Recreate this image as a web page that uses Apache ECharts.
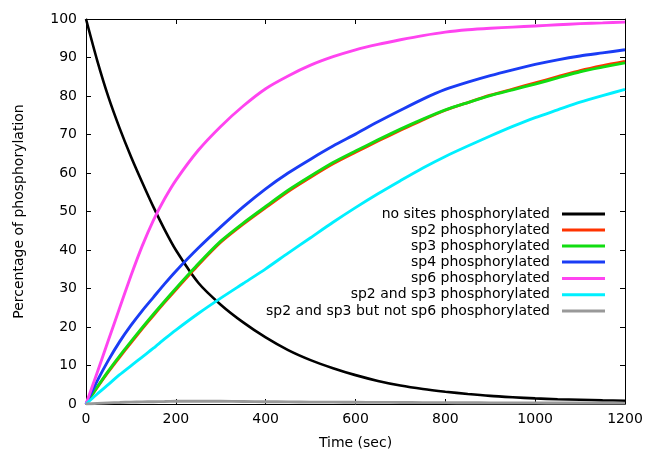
<!DOCTYPE html>
<html>
<head>
<meta charset="utf-8">
<script src="https://cdn.jsdelivr.net/npm/echarts@6/dist/echarts.min.js"></script>
<style>
html,body{margin:0;padding:0;background:#fff;}
#chart{width:646px;height:455px;}
</style>
</head>
<body>
<div id="chart"></div>
<script>
// Time points (sec)
var times = [0, 25, 50, 75, 100, 125, 150, 175, 200, 250, 300, 350, 400, 450, 500, 550, 600, 650, 700, 750, 800, 850, 900, 950, 1000, 1050, 1100, 1150, 1200];

// Series values (% phosphorylation)
var noSites  = [100, 89.2, 79.7, 71.6, 64.3, 57.6, 51.2, 45.3, 40, 31.5, 25.8, 21.2, 17.3, 14, 11.4, 9.3, 7.5, 6, 4.8, 3.9, 3.2, 2.6, 2.1, 1.75, 1.45, 1.25, 1.1, 0.95, 0.85];
var sp2      = [0, 4.3, 8.4, 12.2, 15.9, 19.5, 23, 26.4, 29.7, 36.1, 42, 46.7, 51.0, 55.2, 58.9, 62.4, 65.4, 68.3, 71.1, 73.8, 76.3, 78.3, 80.2, 81.8, 83.4, 85.0, 86.6, 87.9, 89.0];
var sp3      = [0, 4.4, 8.6, 12.5, 16.2, 19.8, 23.3, 26.7, 30, 36.4, 42.3, 47, 51.3, 55.5, 59.2, 62.7, 65.7, 68.6, 71.4, 74, 76.4, 78.3, 80.1, 81.6, 83.1, 84.7, 86.3, 87.5, 88.6];
var sp4      = [0, 6, 11.4, 16.2, 20.4, 24.2, 27.7, 31.2, 34.5, 40.5, 46, 51.2, 55.9, 60, 63.6, 67, 70.1, 73.3, 76.3, 79.2, 81.7, 83.6, 85.3, 86.8, 88.2, 89.4, 90.4, 91.2, 92];
var sp6      = [0, 8.2, 16.6, 25, 33.3, 41, 47.7, 53.3, 58.1, 65.9, 72.1, 77.4, 81.9, 85.2, 88, 90.2, 92, 93.4, 94.6, 95.7, 96.6, 97.2, 97.6, 97.9, 98.2, 98.5, 98.8, 99, 99.2];
var sp2sp3   = [0, 2.6, 5.1, 7.6, 9.9, 12.2, 14.5, 16.9, 19.2, 23.5, 27.5, 31.3, 35.1, 39.2, 43.2, 47.2, 51, 54.6, 58, 61.3, 64.3, 67, 69.6, 72.1, 74.4, 76.4, 78.4, 80.1, 81.7];
var sp2sp3n6 = [0, 0.15, 0.3, 0.4, 0.5, 0.55, 0.6, 0.65, 0.7, 0.72, 0.7, 0.65, 0.6, 0.55, 0.5, 0.48, 0.45, 0.42, 0.4, 0.37, 0.35, 0.33, 0.3, 0.3, 0.28, 0.27, 0.25, 0.25, 0.24];

var seriesNames = [
  'no sites phosphorylated',
  'sp2 phosphorylated',
  'sp3 phosphorylated',
  'sp4 phosphorylated',
  'sp6 phosphorylated',
  'sp2 and sp3 phosphorylated',
  'sp2 and sp3 but not sp6 phosphorylated'
];
var seriesValues = [noSites, sp2, sp3, sp4, sp6, sp2sp3, sp2sp3n6];
var seriesColors = ['#000000', '#ff3300', '#11dd11', '#1a3cf5', '#ff44f0', '#00f0ff', '#999999'];

var FONT = '"DejaVu Sans", Verdana, sans-serif';

function pairs(vals) {
  return times.map(function (t, i) { return [t, vals[i]]; });
}

var series = seriesNames.map(function (name, i) {
  return {
    name: name,
    type: 'line',
    xAxisIndex: 0,
    yAxisIndex: 0,
    data: pairs(seriesValues[i]),
    showSymbol: false,
    symbol: 'none',
    smooth: 0.25,
    lineStyle: { color: seriesColors[i], width: i === 0 ? 2.6 : 2.9 },
    itemStyle: { color: seriesColors[i] },
    z: 2 + i
  };
});

var legendCenters = [214, 230, 246, 262, 278.5, 294.7, 311];
var legends = seriesNames.map(function (name, i) {
  return {
    data: [name],
    orient: 'vertical',
    align: 'right',
    right: 41,
    top: legendCenters[i] - 8,
    padding: 0,
    icon: 'rect',
    itemWidth: 43,
    itemHeight: 3,
    selectedMode: false,
    itemStyle: { color: seriesColors[i] },
    textStyle: {
      fontFamily: FONT,
      fontSize: 14,
      color: '#000',
      lineHeight: 16,
      padding: [0, 7, 0, 0]
    }
  };
});

var axisTextStyle = { fontFamily: FONT, fontSize: 14, color: '#000' };

var option = {
  animation: false,
  backgroundColor: '#fff',
  grid: { left: 86, right: 21, top: 19, bottom: 50, containLabel: false },
  legend: legends,
  xAxis: [{
    type: 'value', min: 0, max: 1200, interval: 200,
    position: 'bottom',
    name: 'Time (sec)', nameLocation: 'middle', nameGap: 32,
    nameTextStyle: { fontFamily: FONT, fontSize: 14, color: '#000' },
    axisLine: { show: true, onZero: false, lineStyle: { color: '#000', width: 1 } },
    axisTick: { show: true, inside: true, length: 5, lineStyle: { color: '#000' } },
    axisLabel: Object.assign({ margin: 8, formatter: function (v) { return String(v); } }, axisTextStyle),
    splitLine: { show: false }
  }, {
    type: 'value', min: 0, max: 1200, interval: 200,
    position: 'top',
    axisLine: { show: true, onZero: false, lineStyle: { color: '#000', width: 1 } },
    axisTick: { show: true, inside: true, length: 5, lineStyle: { color: '#000' } },
    axisLabel: { show: false },
    splitLine: { show: false }
  }],
  yAxis: [{
    type: 'value', min: 0, max: 100, interval: 10,
    position: 'left',
    name: 'Percentage of phosphorylation', nameLocation: 'middle', nameGap: 60,
    nameTextStyle: { fontFamily: FONT, fontSize: 14, color: '#000' },
    axisLine: { show: true, onZero: false, lineStyle: { color: '#000', width: 1 } },
    axisTick: { show: true, inside: true, length: 5, lineStyle: { color: '#000' } },
    axisLabel: Object.assign({ margin: 9 }, axisTextStyle),
    splitLine: { show: false }
  }, {
    type: 'value', min: 0, max: 100, interval: 10,
    position: 'right',
    axisLine: { show: true, onZero: false, lineStyle: { color: '#000', width: 1 } },
    axisTick: { show: true, inside: true, length: 5, lineStyle: { color: '#000' } },
    axisLabel: { show: false },
    splitLine: { show: false }
  }],
  series: series
};

var chart = echarts.init(document.getElementById('chart'), null, { renderer: 'canvas' });
chart.setOption(option);
</script>
</body>
</html>
